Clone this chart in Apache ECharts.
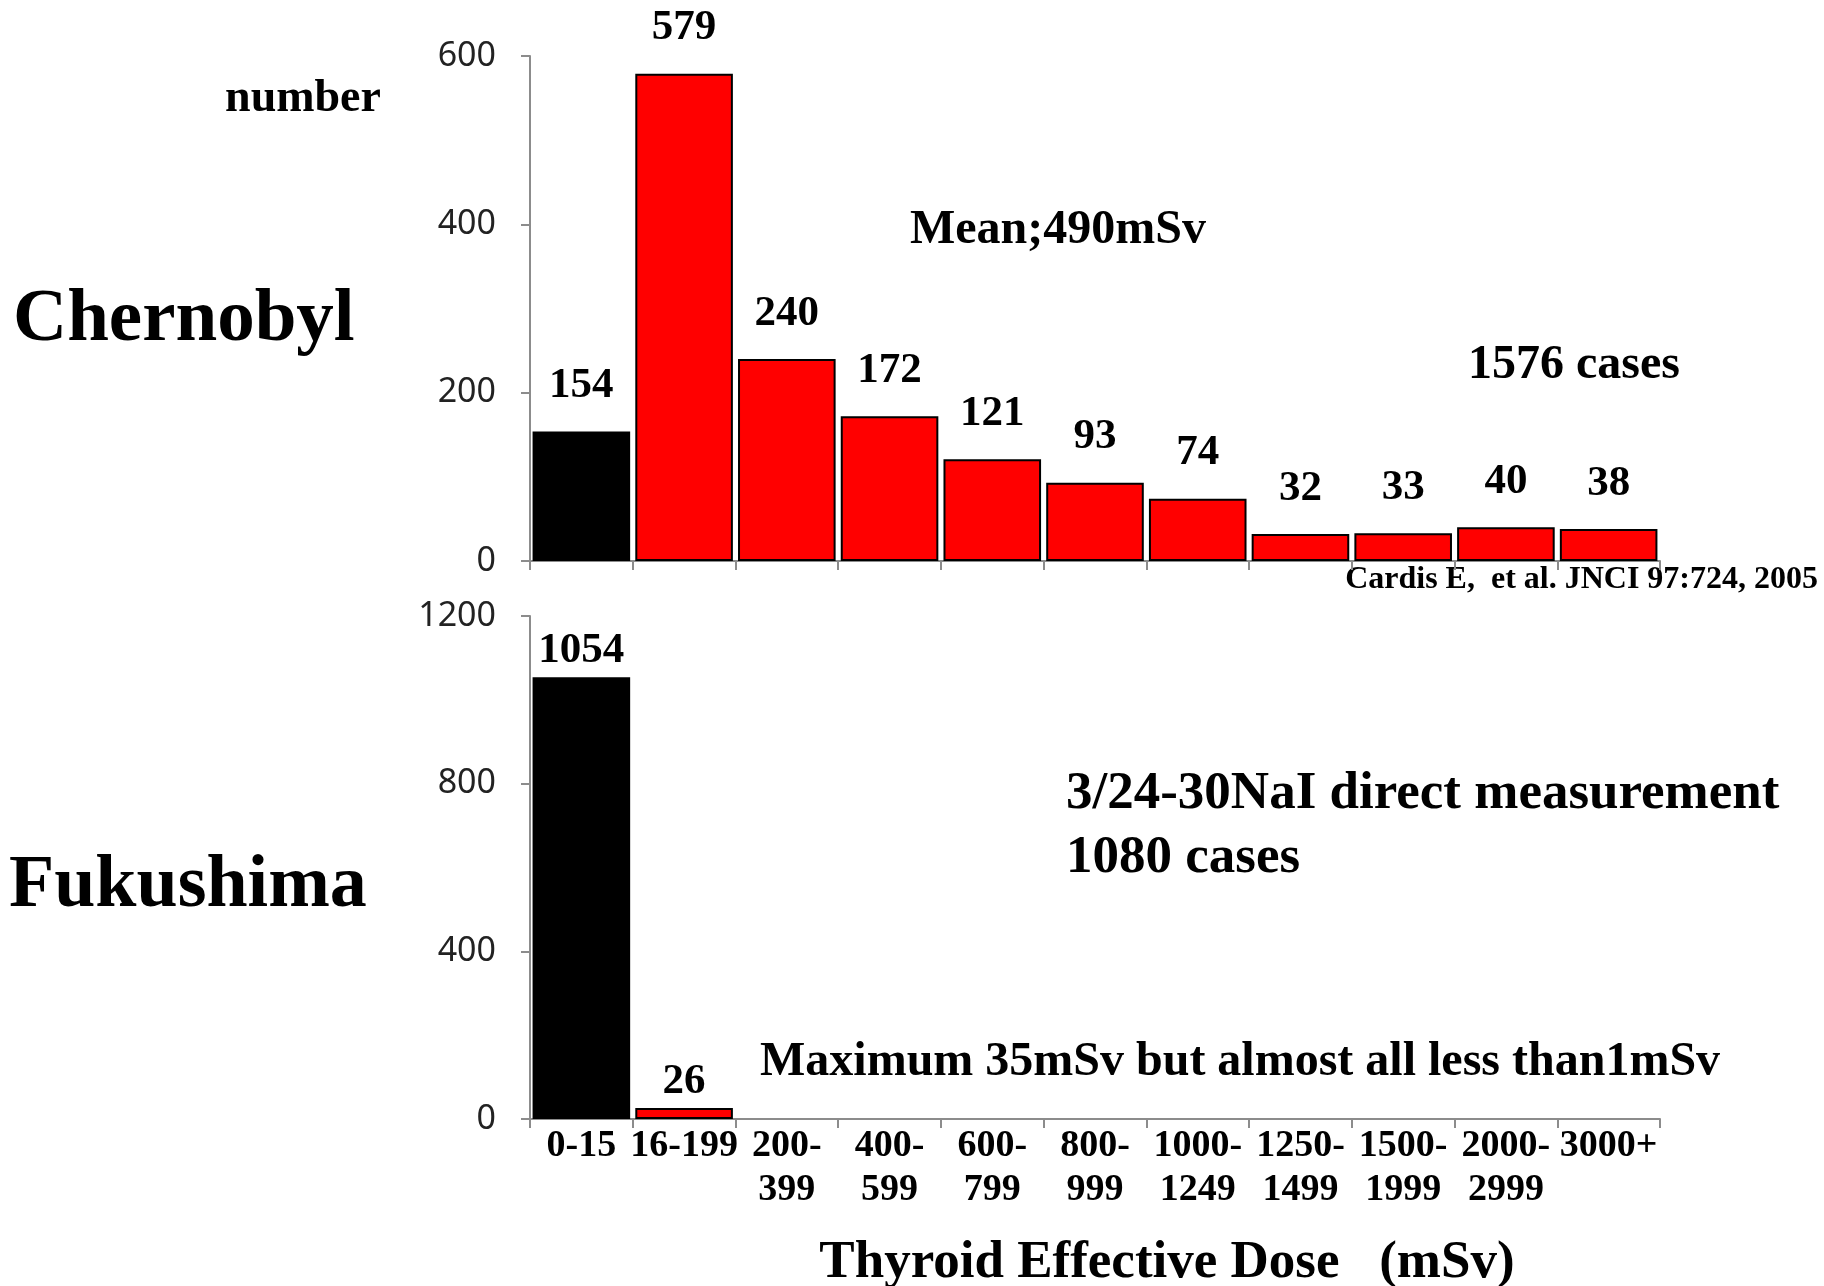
<!DOCTYPE html>
<html>
<head>
<meta charset="utf-8">
<script src="https://cdn.jsdelivr.net/npm/echarts@6/dist/echarts.min.js"></script>
<style>
html,body{margin:0;padding:0;background:#fff;}
#c{width:1824px;height:1286px;}
</style>
</head>
<body>
<div id="c"></div>
<script>
// ---- data ----
const categories = ['0-15','16-199','200-\n399','400-\n599','600-\n799','800-\n999','1000-\n1249','1250-\n1499','1500-\n1999','2000-\n2999','3000+'];
const chernobyl = [154,579,240,172,121,93,74,32,33,40,38];
const fukushima = [1054,26,null,null,null,null,null,null,null,null,null];
const chernobylTicks = {min:0, max:600, interval:200};
const fukushimaTicks = {min:0, max:1200, interval:400};

const SERIF = '"Liberation Serif", "Times New Roman", serif';
const AXIS_GRAY = '#8c8c8c';

function barColor(p){ return p.dataIndex === 0 ? '#000000' : '#ff0000'; }

const chart = echarts.init(document.getElementById('c'), null, {renderer:'canvas'});

function xAxis(gridIndex, showLabels){
  return {
    type:'category', gridIndex, data:categories,
    axisLine:{show:true, lineStyle:{color:AXIS_GRAY, width:2}},
    axisTick:{show:true, length:9, lineStyle:{color:AXIS_GRAY, width:2}},
    axisLabel:{show:showLabels, interval:0, hideOverlap:false, margin:5,
      fontFamily:SERIF, fontWeight:'bold', fontSize:38, lineHeight:44, color:'#000'},
    splitLine:{show:false}
  };
}
function yAxis(gridIndex, t){
  return {
    type:'value', gridIndex, min:t.min, max:t.max, interval:t.interval,
    axisLine:{show:true, lineStyle:{color:AXIS_GRAY, width:2}},
    axisTick:{show:true, length:9, lineStyle:{color:AXIS_GRAY, width:2}},
    axisLabel:{margin:34, fontFamily:'"Noto Sans", sans-serif', fontSize:34, color:'#222',
      formatter:function(v){ return String(v); }},
    splitLine:{show:false}
  };
}

function txt(x, y, text, size, align){
  return {type:'text', x, y, style:{text, fontFamily:SERIF, fontWeight:'bold', fontSize:size,
    fill:'#000', textAlign:align||'left', textVerticalAlign:'middle'}};
}

chart.setOption({
  backgroundColor:'#ffffff',
  animation:false,
  grid:[
    {left:530, top:56, width:1130, height:505},
    {left:530, top:616, width:1130, height:503}
  ],
  xAxis:[xAxis(0,false), xAxis(1,true)],
  yAxis:[yAxis(0,chernobylTicks), yAxis(1,fukushimaTicks)],
  series:[
    {type:'bar', xAxisIndex:0, yAxisIndex:0, data:chernobyl, barCategoryGap:'5%',
     itemStyle:{color:barColor, borderColor:'#000', borderWidth:2},
     label:{show:true, position:'top', distance:24, fontFamily:SERIF, fontWeight:'bold', fontSize:43, color:'#000'}},
    {type:'bar', xAxisIndex:1, yAxisIndex:1, data:fukushima, barCategoryGap:'5%',
     itemStyle:{color:barColor, borderColor:'#000', borderWidth:2},
     label:{show:true, position:'top', distance:5, fontFamily:SERIF, fontWeight:'bold', fontSize:43, color:'#000'}}
  ],
  graphic:[
    txt(303, 99, 'number', 46, 'center'),
    txt(13, 321, 'Chernobyl', 75),
    txt(9, 887, 'Fukushima', 74),
    txt(910, 231, 'Mean;490mSv', 48),
    txt(1468, 366, '1576 cases', 48),
    txt(1818, 580, 'Cardis E,  et al. JNCI 97:724, 2005', 32, 'right'),
    txt(1066, 794, '3/24-30NaI direct measurement', 53),
    txt(1066, 858, '1080 cases', 53),
    txt(760, 1063, 'Maximum 35mSv but almost all less than1mSv', 48),
    txt(1167, 1263, 'Thyroid Effective Dose   (mSv)', 53, 'center')
  ]
});
</script>
</body>
</html>
